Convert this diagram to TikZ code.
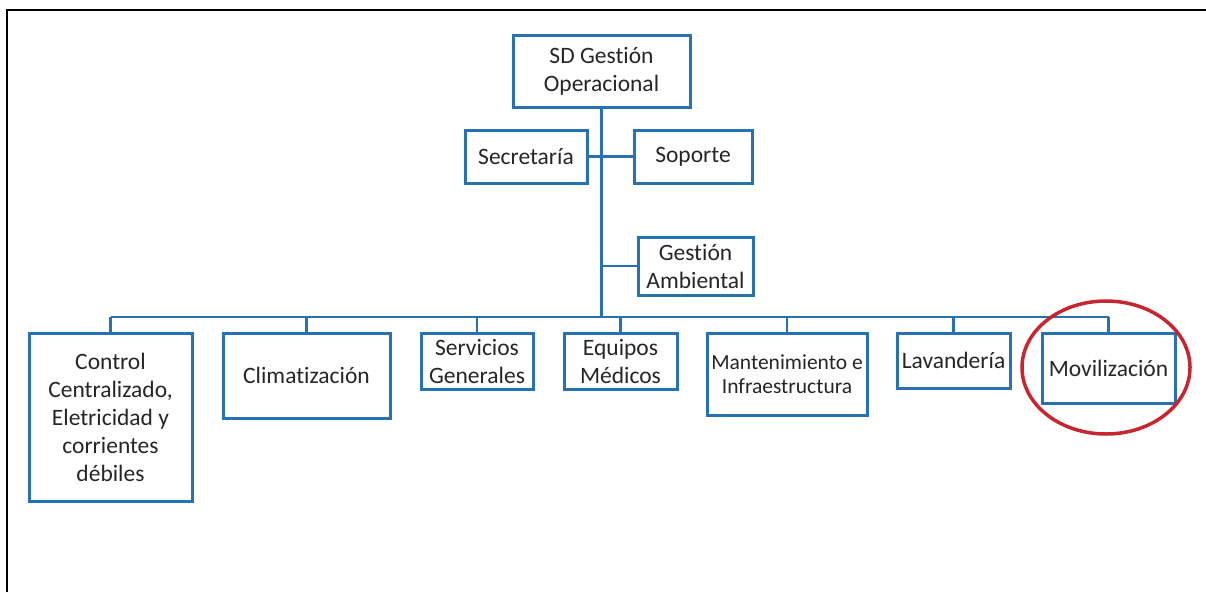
\documentclass[tikz,border=0pt]{standalone}
\usepackage{fontspec}
\setmainfont{Carlito}[Ligatures=NoCommon]
\usetikzlibrary{calc}
\definecolor{orgblue}{RGB}{40,114,180}
\definecolor{markred}{RGB}{200,38,46}
\def\boxfont{\fontsize{23.5}{28}\selectfont}
\def\smallboxfont{\fontsize{21.5}{24.5}\selectfont}
\tikzset{
	unit/.style={draw=orgblue, line width=3pt, fill=white, align=center, inner sep=0pt, text=black!85, font=\boxfont},
	trunk/.style={draw=orgblue, line width=3.5pt},
	link/.style={draw=orgblue, line width=2.5pt}
}

\begin{document}
\begin{tikzpicture}[x=1pt, y=-1pt]
		%%%%% START %%%%%
		
		\useasboundingbox (0, 0) rectangle (1206, 592);
		\draw[line width=2.5pt] (7, 592) -- (7, 10) -- (1206, 10);
		
		% top level
		\node[unit, minimum width=177, minimum height=72] (top) at (601.5, 71) {SD Gesti\'on\\Operacional};
		\node[unit, minimum width=122, minimum height=53] (secr) at (526, 156.5) {Secretar\'ia};
		\node[unit, minimum width=118, minimum height=53] (sop) at (693, 156.5) {Soporte};
		\node[unit, minimum width=115, minimum height=58] (amb) at (695.5, 266) {Gesti\'on\\Ambiental};
		
		% units
		\node[unit, minimum width=163, minimum height=168] (ctrl) at (110.5, 417) {Control\\Centralizado,\\Eletricidad y\\corrientes\\d\'ebiles};
		\node[unit, minimum width=167, minimum height=85] (clim) at (306.5, 375.5) {Climatizaci\'on};
		\node[unit, minimum width=112, minimum height=56] (serv) at (477, 361) {Servicios\\Generales};
		\node[unit, minimum width=113, minimum height=56] (equi) at (620.5, 361) {Equipos\\M\'edicos};
		\node[unit, minimum width=160, minimum height=82, font=\smallboxfont] (mant) at (787, 374) {Mantenimiento e\\Infraestructura};
		\node[unit, minimum width=113, minimum height=55] (lav) at (953.5, 360.5) {Lavander\'ia};
		\node[unit, minimum width=133, minimum height=70] (mov) at (1108.5, 368) {Movilizaci\'on};
		
		% lines
		\coordinate (bus) at (top.south |- 0, 317);
		\draw[trunk] (top.south) -- (bus);
		\draw[link] (secr.east) -- (sop.west);
		\draw[link] (top.south |- amb.west) -- (amb.west);
		\draw[link] (ctrl.north |- bus) -- (mov.north |- bus);
		\foreach \u in {ctrl, clim, serv, equi, mant, lav, mov}
			\draw[link] (\u.north |- bus) -- (\u.north);
		
		% mark
		\draw[markred, line width=3.5pt] (1106, 367.5) ellipse (84 and 66.5);
		
		%%%%% END %%%%%
	\end{tikzpicture}
\end{document}
